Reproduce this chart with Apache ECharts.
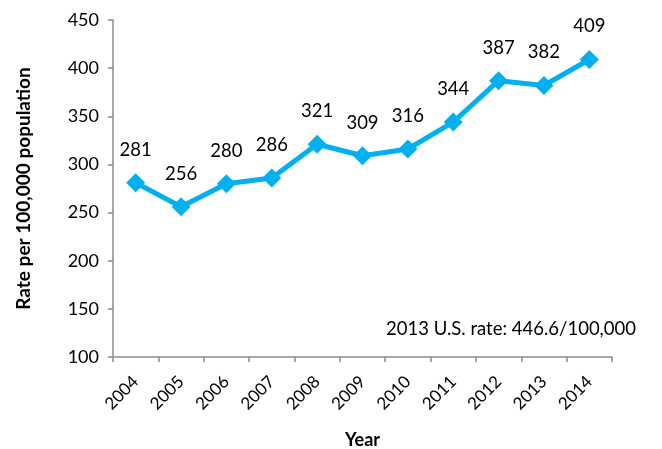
<!DOCTYPE html>
<html>
<head>
<meta charset="utf-8">
<script src="https://cdn.jsdelivr.net/npm/echarts@6/dist/echarts.min.js"></script>
<style>html,body{margin:0;padding:0;background:#fff}#c{width:662px;height:449px}</style>
</head>
<body>
<div id="c"></div>
<script>
const years = ['2004','2005','2006','2007','2008','2009','2010','2011','2012','2013','2014'];
const rates = [281, 256, 280, 286, 321, 309, 316, 344, 387, 382, 409];
const yTicks = [100, 150, 200, 250, 300, 350, 400, 450];
const note = '2013 U.S. rate: 446.6/100,000';

const FONT = 'Lato, "Open Sans", sans-serif';
const chart = echarts.init(document.getElementById('c'), null, {renderer: 'canvas'});
chart.setOption({
  animation: false,
  backgroundColor: '#fff',
  grid: {left: 113, right: 50, top: 20, bottom: 92, containLabel: false, outerBoundsMode: 'none'},
  xAxis: {
    type: 'category',
    data: years,
    boundaryGap: true,
    name: 'Year',
    nameLocation: 'middle',
    nameGap: 74,
    nameTextStyle: {fontFamily: FONT, fontWeight: 'bold', fontSize: 18, color: '#000'},
    axisLine: {lineStyle: {color: '#8c8c8c', width: 1.5}},
    axisTick: {show: true, alignWithLabel: false, length: 5, lineStyle: {color: '#8c8c8c', width: 1.5}},
    axisLabel: {rotate: 45, fontFamily: FONT, fontSize: 17, color: '#000', margin: 22},
    splitLine: {show: false}
  },
  yAxis: {
    type: 'value',
    min: yTicks[0],
    max: yTicks[yTicks.length - 1],
    interval: 50,
    name: 'Rate per 100,000 population',
    nameLocation: 'middle',
    nameGap: 80,
    nameTextStyle: {fontFamily: FONT, fontWeight: 'bold', fontSize: 19, color: '#000'},
    axisLine: {show: true, lineStyle: {color: '#8c8c8c', width: 1.5}},
    axisTick: {show: true, length: 5, lineStyle: {color: '#8c8c8c', width: 1.5}},
    axisLabel: {fontFamily: FONT, fontSize: 18, color: '#000', margin: 14},
    splitLine: {show: false}
  },
  series: [{
    type: 'line',
    data: rates,
    symbol: 'diamond',
    symbolSize: 19,
    lineStyle: {color: '#00b0f0', width: 5},
    itemStyle: {color: '#00b0f0'},
    label: {show: true, position: 'top', distance: 14, fontFamily: FONT, fontSize: 18.5, color: '#000'}
  }],
  graphic: [{
    type: 'text',
    right: 26,
    top: 320,
    style: {text: note, fontFamily: FONT, fontSize: 18.5, fill: '#000'}
  }]
});
</script>
</body>
</html>
